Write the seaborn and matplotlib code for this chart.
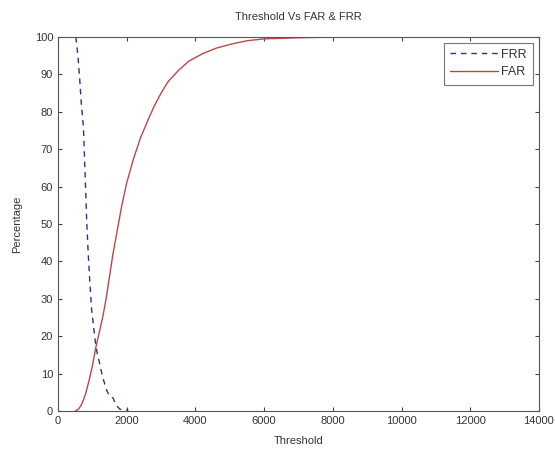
import matplotlib
matplotlib.use("Agg")
import matplotlib.pyplot as plt
import seaborn as sns
import pandas as pd

frr_x = [520, 580, 630, 680, 740, 790, 835, 880, 930, 980, 1030, 1080, 1130, 1180, 1230,
         1300, 1370, 1420, 1500, 1600, 1700, 1800, 1900, 2050]
frr_y = [100, 95, 89, 82, 76, 63, 51, 42, 34, 27, 23, 19, 16, 14, 12,
         9, 7, 5.5, 4, 3.5, 1.5, 0.5, 0.3, 0.3]

far_x = [500, 600, 700, 800, 900, 1000, 1100, 1200, 1300, 1400, 1500, 1600, 1850, 2000,
         2200, 2400, 2630, 2800, 3000, 3200, 3500, 3800, 4200, 4600, 5000, 5500, 6000,
         7000, 8200]
far_y = [0, 0.5, 2, 4.5, 8, 12, 17, 21, 25, 30, 36, 42, 54.6, 61,
         67.5, 73, 78, 81.5, 85, 88, 91, 93.5, 95.5, 97, 98, 99, 99.5,
         99.8, 100]

x_ticks = [0, 2000, 4000, 6000, 8000, 10000, 12000, 14000]
y_ticks = [0, 10, 20, 30, 40, 50, 60, 70, 80, 90, 100]

sns.set_style("white")
plt.rcParams['font.family'] = ['Liberation Sans', 'DejaVu Sans']

fig = plt.figure(figsize=(5.55, 4.49), dpi=100)
ax = fig.add_axes([0.1045, 0.0846, 0.8665, 0.833])

df_frr = pd.DataFrame({"x": frr_x, "y": frr_y})
df_far = pd.DataFrame({"x": far_x, "y": far_y})

sns.lineplot(data=df_frr, x="x", y="y", ax=ax, color="#30308f", linestyle=(0, (4, 3.5)),
             linewidth=1.0, label="FRR", sort=False)
sns.lineplot(data=df_far, x="x", y="y", ax=ax, color="#bb4848", linestyle="-",
             linewidth=1.0, label="FAR", sort=False)

ax.set_xlim(0, 14000)
ax.set_ylim(0, 100)
ax.set_xticks(x_ticks)
ax.set_xticklabels([str(t) for t in x_ticks])
ax.set_yticks(y_ticks)
ax.set_yticklabels([str(t) for t in y_ticks])
ax.tick_params(direction="in", length=3, labelsize=8, top=True, right=True,
               bottom=True, left=True, color="#444444", labelcolor="#333333")
for s in ax.spines.values():
    s.set_color("#555555")
    s.set_linewidth(0.8)

ax.set_xlabel("Threshold", fontsize=8, labelpad=7, color="#333333")
ax.set_ylabel("Percentage", fontsize=8, labelpad=9, color="#333333")
ax.set_title("Threshold Vs FAR & FRR", fontsize=8, pad=12, color="#333333")

leg = ax.legend(loc="upper right", fontsize=9, frameon=True, fancybox=False,
                handlelength=3.8, handletextpad=0.3, borderpad=0.5,
                labelspacing=0.45, borderaxespad=0.45)
leg.get_frame().set_edgecolor("#555555")
leg.get_frame().set_linewidth(0.8)
for t in leg.get_texts():
    t.set_color("#333333")

fig.savefig("out.png", dpi=100)
